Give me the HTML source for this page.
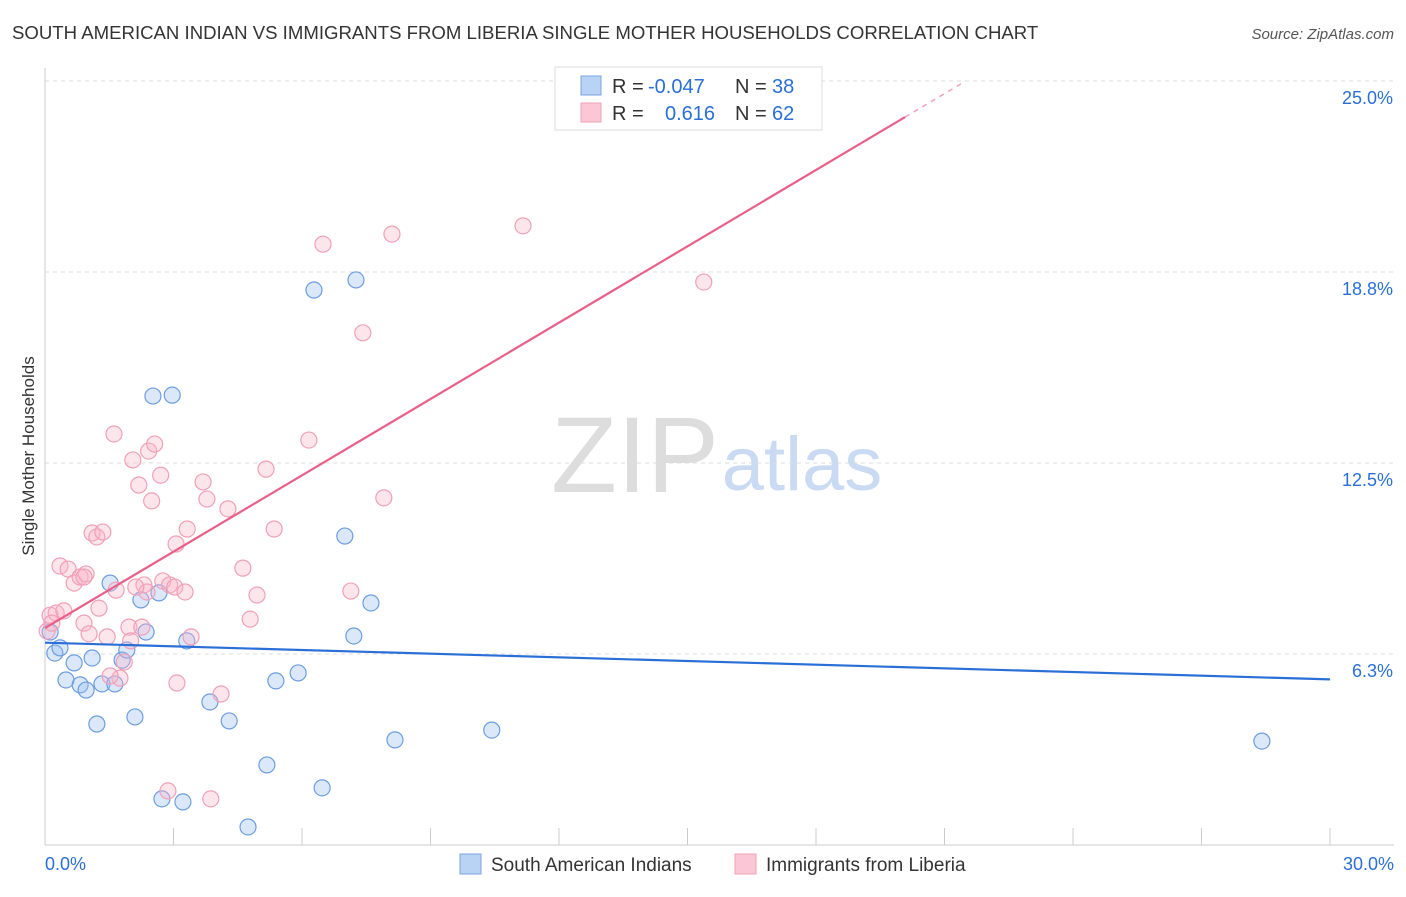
<!DOCTYPE html>
<html><head><meta charset="utf-8"><style>
body{margin:0;background:#fff;font-family:"Liberation Sans",sans-serif;}
svg text{font-family:"Liberation Sans",sans-serif;}
</style></head><body>
<svg id="chart" width="1406" height="892" viewBox="0 0 1406 892">
<text x="12" y="39" font-size="18.6" fill="#333">SOUTH AMERICAN INDIAN VS IMMIGRANTS FROM LIBERIA SINGLE MOTHER HOUSEHOLDS CORRELATION CHART</text>
<text x="1394" y="39" font-size="15" fill="#555" text-anchor="end" font-style="italic">Source: ZipAtlas.com</text>
<text transform="translate(34,456) rotate(-90)" font-size="17" fill="#333" text-anchor="middle">Single Mother Households</text>
<g>
<text x="635" y="492" font-size="108" fill="#ddd" font-family="Liberation Serif" text-anchor="middle">ZIP</text>
<text x="802" y="490" font-size="76" fill="#c9daf2" text-anchor="middle">atlas</text>
</g>
<g id="grid"></g><g id="pts"></g><g id="lines"></g>
<g>
<rect x="555" y="67" width="267" height="63" fill="#fff" stroke="#ddd"/>
<rect x="581" y="76" width="20" height="19" fill="#b9d3f5" stroke="#7aa6e0"/>
<rect x="581" y="103" width="20" height="19" fill="#fbc7d6" stroke="#f0a0b8"/>
<text x="612" y="93" font-size="20" fill="#333">R =</text>
<text x="648" y="93" font-size="20" fill="#2a6fd6">-0.047</text>
<text x="735" y="93" font-size="20" fill="#333">N =</text>
<text x="772" y="93" font-size="20" fill="#2a6fd6">38</text>
<text x="612" y="120" font-size="20" fill="#333">R =</text>
<text x="665" y="120" font-size="20" fill="#2a6fd6">0.616</text>
<text x="735" y="120" font-size="20" fill="#333">N =</text>
<text x="772" y="120" font-size="20" fill="#2a6fd6">62</text>
</g>
<g>
<rect x="460" y="854" width="21" height="20" fill="#b9d3f5" stroke="#7aa6e0"/>
<text x="491" y="871" font-size="19" fill="#333">South American Indians</text>
<rect x="735" y="854" width="21" height="20" fill="#fbc7d6" stroke="#f0a0b8"/>
<text x="766" y="871" font-size="19" fill="#333">Immigrants from Liberia</text>
</g>
</svg>
<script>
const xTicks=[0,3,6,9,12,15,18,21,24,27,30];
const yTicks=[6.25,12.5,18.75,25];
const yTickLabels=["6.3%","12.5%","18.8%","25.0%"];
const blueX=[1.52,2.24,2.66,2.36,3.31,2.52,2.97,6.28,7.26,7.00,7.61,7.21,5.91,5.39,3.85,4.30,2.10,1.21,5.18,6.47,2.73,3.22,4.74,8.17,10.43,28.41,0.68,1.10,1.80,1.91,0.49,0.82,0.96,1.33,1.63,0.23,0.35,0.12];
const blueY=[8.57,8.02,8.25,6.97,6.68,14.69,14.72,18.16,18.49,10.11,7.92,6.84,5.63,5.37,4.68,4.06,4.19,3.96,2.62,1.87,1.51,1.41,0.59,3.44,3.76,3.40,5.96,6.12,6.05,6.38,5.40,5.24,5.07,5.27,5.27,6.28,6.45,6.97];
const pinkX=[0.05,0.12,0.26,0.44,0.16,0.35,0.54,0.68,0.82,0.96,1.10,1.21,1.35,0.91,1.03,1.26,1.45,1.61,2.05,2.19,2.49,2.42,2.56,2.70,2.31,2.38,1.66,2.12,1.96,2.00,2.26,2.75,2.91,3.03,3.27,3.06,3.32,3.69,3.78,4.27,3.41,3.08,4.11,4.62,4.95,4.79,5.16,5.35,6.16,6.49,7.42,8.10,7.91,7.14,11.16,15.38,2.87,3.87,1.75,1.85,1.52,0.91];
const pinkY=[7.0,7.52,7.59,7.66,7.26,9.13,9.03,8.57,8.77,8.87,10.21,10.08,10.24,7.26,6.91,7.75,6.81,13.45,12.60,11.78,11.26,12.89,13.12,12.10,8.51,8.28,8.34,8.44,7.13,6.68,7.13,8.64,8.51,8.44,8.28,9.85,10.34,11.88,11.32,11.00,6.81,5.30,4.94,9.06,8.18,7.39,12.30,10.34,13.25,19.66,16.76,19.99,11.36,8.31,20.26,18.42,1.77,1.51,5.46,5.99,5.53,8.77];
const blueFit=[6.62,5.42], pinkFit=[7.10,32.08];
const X=v=>45+v/30*1285, Y=v=>845-v/25*764;
const ns="http://www.w3.org/2000/svg";
function mk(p,t,a){const e=document.createElementNS(ns,t);for(const k in a)e.setAttribute(k,a[k]);p.appendChild(e);return e;}
const g=document.getElementById('grid');
mk(g,'line',{x1:45,y1:68,x2:45,y2:845,stroke:'#ccc'});
mk(g,'line',{x1:45,y1:845,x2:1394,y2:845,stroke:'#ccc'});
yTicks.forEach((t,i)=>{
 const l=mk(g,'line',{x1:45,y1:Y(t),x2:1394,y2:Y(t),stroke:'#ddd','stroke-dasharray':'4,4'});
 
 
 const tx=mk(g,'text',{x:1393,y:Y(t)+23,'font-size':18,fill:'#2a6fd6','text-anchor':'end'});
 tx.textContent=yTickLabels[i];
 
 
});
xTicks.forEach(t=>{
 const l=mk(g,'line',{x1:X(t),y1:828,x2:X(t),y2:845,stroke:'#ccc'});
 
 
});
const x0=mk(g,'text',{x:45,y:870,'font-size':18,fill:'#2a6fd6'});x0.textContent='0.0%';


const x1=mk(g,'text',{x:1394,y:870,'font-size':18,fill:'#2a6fd6','text-anchor':'end'});x1.textContent='30.0%';


const p=document.getElementById('pts');
blueX.forEach((v,i)=>{const c=mk(p,'circle',{cx:X(v),cy:Y(blueY[i]),r:8,fill:'rgba(150,190,240,0.35)',stroke:'#6d9de0','stroke-width':1.2});
 
 });
pinkX.forEach((v,i)=>{const c=mk(p,'circle',{cx:X(v),cy:Y(pinkY[i]),r:8,fill:'rgba(250,180,200,0.35)',stroke:'#f0a0b8','stroke-width':1.2});
 
 });
const L=document.getElementById('lines');
const bl=mk(L,'line',{x1:X(0),y1:Y(blueFit[0]),x2:X(30),y2:Y(blueFit[1]),stroke:'#2a6fd6','stroke-width':2.2});


const slope=(pinkFit[1]-pinkFit[0])/30, xs=20.08, xe=21.48;
const pl=mk(L,'line',{x1:X(0),y1:Y(pinkFit[0]),x2:X(xs),y2:Y(pinkFit[0]+slope*xs),stroke:'#e8608a','stroke-width':2.2});


const pd=mk(L,'line',{x1:X(xs),y1:Y(pinkFit[0]+slope*xs),x2:X(xe),y2:Y(pinkFit[0]+slope*xe),stroke:'#f0a0b8','stroke-width':1.5,'stroke-dasharray':'5,5'});


</script>
</body></html>
